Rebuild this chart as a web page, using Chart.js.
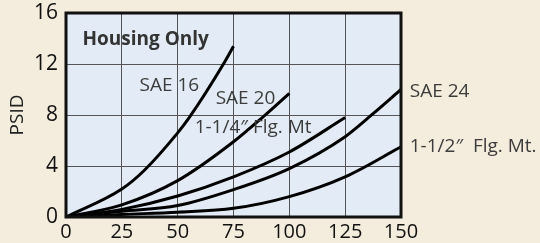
<!DOCTYPE html>
<html lang="en">
<head>
    <meta charset="UTF-8">
    <title>Housing Only - PSID</title>
    <script src="https://cdn.jsdelivr.net/npm/chart.js"></script>
    <style>
        body {
            margin: 0;
            background: #f4ecdc;
        }

        .chart-box {
            width: 540px;
            height: 243px;
        }
    </style>
</head>
<body>
    <div class="chart-box">
        <canvas id="psidChart"></canvas>
    </div>

    <script>
        // axis ticks
        const flowTicks = [0, 25, 50, 75, 100, 125, 150];
        const psidTicks = [0, 4, 8, 12, 16];

        // curves (flow, psid)
        const sae16Flow = [0, 25, 35, 50, 55, 70.5, 75];
        const sae16Psid = [0, 2.2, 3.65, 6.6, 7.75, 12.0, 13.4];

        const sae20Flow = [0, 25, 50, 75, 88.5, 100];
        const sae20Psid = [0, 0.95, 2.85, 5.9, 7.9, 9.7];

        const flg114Flow = [0, 25, 50, 75, 100, 125];
        const flg114Psid = [0, 0.6, 1.65, 3.15, 5.1, 7.8];

        const sae24Flow = [0, 25, 50, 75, 100, 125, 137.5, 150];
        const sae24Psid = [0, 0.45, 0.9, 2.15, 3.8, 6.3, 8.1, 10.0];

        const flg112Flow = [0, 25, 50, 75, 100, 125, 150];
        const flg112Psid = [0, 0.2, 0.38, 0.68, 1.6, 3.15, 5.5];

        const seriesNames = ['SAE 16', 'SAE 20', '1-1/4\u2033 Flg. Mt', 'SAE 24', '1-1/2\u2033  Flg. Mt.'];

        // where each curve name sits (left edge, middle), in chart units
        const nameSpots = [[32.9, 10.3], [67, 9.3], [57.6, 7.0], [153.9, 9.8], [153.9, 5.55]];

        function toPoints(xs, ys) {
            return xs.map((x, i) => ({ x: x, y: ys[i] }));
        }

        const curves = [
            toPoints(sae16Flow, sae16Psid),
            toPoints(sae20Flow, sae20Psid),
            toPoints(flg114Flow, flg114Psid),
            toPoints(sae24Flow, sae24Psid),
            toPoints(flg112Flow, flg112Psid)
        ];

        // plot background, heavy frame and text labels
        const framePlugin = {
            id: 'frame',
            beforeDraw(chart) {
                const a = chart.chartArea;
                const ctx = chart.ctx;
                ctx.save();
                ctx.fillStyle = '#e3ebf6';
                ctx.fillRect(a.left, a.top, a.right - a.left, a.bottom - a.top);
                ctx.restore();
            },
            afterDatasetsDraw(chart) {
                const a = chart.chartArea;
                const ctx = chart.ctx;
                ctx.save();
                ctx.strokeStyle = '#111';
                ctx.lineWidth = 3;
                ctx.strokeRect(a.left, a.top, a.right - a.left, a.bottom - a.top);
                ctx.restore();
            },
            afterDraw(chart) {
                const ctx = chart.ctx;
                const xs = chart.scales.x;
                const ys = chart.scales.y;
                ctx.save();
                ctx.textBaseline = 'middle';
                ctx.textAlign = 'left';

                ctx.fillStyle = '#333';
                ctx.font = 'bold 19px "Open Sans", sans-serif';
                ctx.fillText('Housing Only', xs.getPixelForValue(7.4), ys.getPixelForValue(13.9));

                ctx.fillStyle = '#3c3c3c';
                ctx.font = '19px "Open Sans", sans-serif';
                seriesNames.forEach((name, i) => {
                    const spot = nameSpots[i];
                    ctx.fillText(name, xs.getPixelForValue(spot[0]), ys.getPixelForValue(spot[1]));
                });
                ctx.restore();
            }
        };

        window.onload = function() {
            const ctx = document.getElementById('psidChart').getContext('2d');
            new Chart(ctx, {
                type: 'line',
                data: {
                    datasets: curves.map((pts, i) => ({
                        label: seriesNames[i],
                        data: pts,
                        borderColor: '#000',
                        borderWidth: 3,
                        pointRadius: 0,
                        fill: false,
                        cubicInterpolationMode: 'monotone'
                    }))
                },
                options: {
                    responsive: true,
                    maintainAspectRatio: false,
                    animation: false,
                    layout: {
                        padding: { top: 13, right: 139, left: 0, bottom: 0 }
                    },
                    plugins: {
                        legend: { display: false },
                        tooltip: { enabled: false }
                    },
                    scales: {
                        x: {
                            type: 'linear',
                            min: 0,
                            max: 150,
                            afterBuildTicks: (s) => { s.ticks = flowTicks.map(v => ({ value: v })); },
                            afterFit: (s) => { s.height = 26; s.paddingLeft = 0; s.paddingRight = 0; },
                            grid: { color: '#555', lineWidth: 1, drawTicks: false },
                            border: { display: false },
                            ticks: {
                                color: '#111',
                                padding: 3,
                                maxRotation: 0,
                                font: { family: 'Open Sans', size: 20 }
                            }
                        },
                        y: {
                            min: 0,
                            max: 16,
                            afterBuildTicks: (s) => { s.ticks = psidTicks.map(v => ({ value: v })); },
                            afterFit: (s) => { s.width = 66; s.paddingTop = 0; s.paddingBottom = 0; },
                            grid: { color: '#555', lineWidth: 1, drawTicks: false },
                            border: { display: false },
                            title: {
                                display: true,
                                text: 'PSID',
                                color: '#222',
                                padding: { top: 6, bottom: 0 },
                                font: { family: 'Open Sans', size: 19 }
                            },
                            ticks: {
                                color: '#111',
                                padding: 8,
                                font: { family: 'Open Sans', size: 21 }
                            }
                        }
                    }
                },
                plugins: [framePlugin]
            });
        };
    </script>
</body>
</html>
